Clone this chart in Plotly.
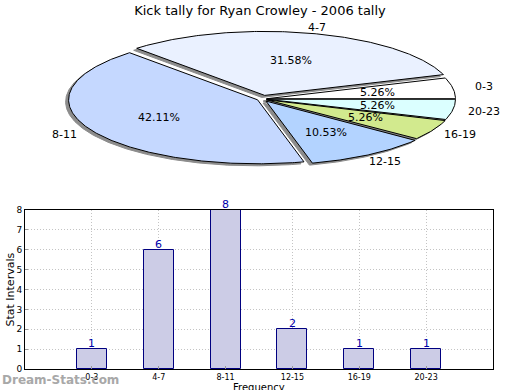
import math
import plotly.graph_objects as go

# ---- data ----
categories = ["0-3", "4-7", "8-11", "12-15", "16-19", "20-23"]
counts = [1, 6, 8, 2, 1, 1]
slice_colors = ["#FFFFFF", "#EAF1FF", "#C5D8FF", "#B3D3FF", "#D2EA8E", "#DBFFFF"]
y_ticks = [0, 1, 2, 3, 4, 5, 6, 7, 8]

title = "Kick tally for Ryan Crowley - 2006 tally"

W, H = 520, 390
# pie geometry (pixel units on an overlay axis)
CX, CY, RA, RB = 262, 99, 189, 64
EXPLODE = 4.5
SHADOW_DX, SHADOW_DY = -3, 2

fig = go.Figure()

total = sum(counts)
start = 0.0
slices = []
for cat, v, col in zip(categories, counts, slice_colors):
    span = 360.0 * v / total
    a0, a1 = start, start + span
    mid = math.radians((a0 + a1) / 2)
    vx, vy = RA * math.cos(mid), -RB * math.sin(mid)
    n = math.hypot(vx, vy)
    ox, oy = EXPLODE * vx / n, EXPLODE * vy / n
    steps = max(8, int(span * 2))
    xs = [CX + ox]
    ys = [CY + oy]
    for i in range(steps + 1):
        t = math.radians(a0 + (a1 - a0) * i / steps)
        xs.append(CX + ox + RA * math.cos(t))
        ys.append(CY + oy - RB * math.sin(t))
    xs.append(CX + ox)
    ys.append(CY + oy)
    slices.append((cat, v, col, xs, ys, mid))
    start = a1

# shadows
for cat, v, col, xs, ys, mid in slices:
    fig.add_trace(go.Scatter(
        x=[x + SHADOW_DX for x in xs], y=[y + SHADOW_DY for y in ys],
        mode="lines", fill="toself", fillcolor="#8c8c8c",
        line=dict(color="#8c8c8c", width=1), xaxis="x2", yaxis="y2",
        hoverinfo="skip", showlegend=False))
# slices
for cat, v, col, xs, ys, mid in slices:
    fig.add_trace(go.Scatter(
        x=xs, y=ys, mode="lines", fill="toself", fillcolor=col,
        line=dict(color="#000000", width=1), xaxis="x2", yaxis="y2",
        name=cat, hoverinfo="name", showlegend=False))

annotations = []
for cat, v, col, xs, ys, mid in slices:
    pct = "%.2f%%" % (100.0 * v / total)
    annotations.append(dict(
        x=CX + 0.62 * RA * math.cos(mid), y=CY - 0.62 * RB * math.sin(mid),
        xref="x2", yref="y2", text=pct, showarrow=False,
        font=dict(family="DejaVu Sans", size=11, color="#000000")))
    annotations.append(dict(
        x=CX + 1.19 * RA * math.cos(mid), y=CY - 1.16 * RB * math.sin(mid),
        xref="x2", yref="y2", text=cat, showarrow=False,
        font=dict(family="DejaVu Sans", size=11, color="#000000")))

# bar chart
fig.add_trace(go.Bar(
    x=categories, y=counts, width=0.45,
    marker=dict(color="#CCCCE6", line=dict(color="#000080", width=1)),
    showlegend=False, xaxis="x", yaxis="y"))

for cat, c in zip(categories, counts):
    annotations.append(dict(
        x=cat, y=c, xref="x", yref="y", text=str(c), showarrow=False,
        yanchor="bottom", yshift=-3,
        font=dict(family="DejaVu Sans", size=11, color="#0000AA")))

annotations.append(dict(
    x=0, y=380, xref="x2", yref="y2", xanchor="left", yanchor="middle",
    text="<b>Dream-Stats.com</b>", showarrow=False,
    font=dict(family="DejaVu Sans", size=12, color="#a8a8a8")))
# x-axis title (partly cut at the bottom edge, as in the reference)
annotations.append(dict(
    x=259, y=387, xref="x2", yref="y2", xanchor="center", yanchor="middle",
    text="Frequency", showarrow=False,
    font=dict(family="DejaVu Sans", size=10, color="#000000")))
# y-axis title
annotations.append(dict(
    x=10, y=289.5, xref="x2", yref="y2", xanchor="center", yanchor="middle",
    text="Stat Intervals", textangle=-90, showarrow=False,
    font=dict(family="DejaVu Sans", size=11, color="#000000")))

grid_dash = "1px,2px"
fig.update_layout(
    width=W, height=H, autosize=False,
    margin=dict(l=0, r=0, t=0, b=0),
    paper_bgcolor="white", plot_bgcolor="rgba(0,0,0,0)",
    title=dict(text=title, x=0.5, xanchor="center", y=1 - 10 / H, yanchor="middle",
               font=dict(family="DejaVu Sans", size=13, color="#000000")),
    xaxis=dict(domain=[25 / W, 493 / W], range=[-1, 6], type="category",
               automargin=False,
               showline=True, linecolor="#000000", linewidth=1, mirror=True,
               showgrid=True, gridcolor="#c4c4c4", griddash=grid_dash, gridwidth=1,
               ticks="inside", ticklen=3, tickcolor="#999999",
               tickfont=dict(family="DejaVu Sans", size=8, color="#000000"),
               zeroline=False, fixedrange=True),
    yaxis=dict(domain=[(H - 369) / H, (H - 210) / H], range=[0, 8],
               tickvals=y_ticks, automargin=False,
               showline=True, linecolor="#000000", linewidth=1, mirror=True,
               showgrid=True, gridcolor="#c4c4c4", griddash=grid_dash, gridwidth=1,
               ticks="inside", ticklen=3, tickcolor="#999999",
               tickfont=dict(family="DejaVu Sans", size=9, color="#000000"),
               zeroline=False, fixedrange=True),
    xaxis2=dict(domain=[0, 1], range=[0, W], visible=False, fixedrange=True),
    yaxis2=dict(domain=[0, 1], range=[H, 0], visible=False, fixedrange=True),
    annotations=annotations,
    bargap=0,
)

fig.write_html("out.html", config={"displayModeBar": False},
               post_script="document.body.style.margin='0';document.body.style.overflow='hidden';")
